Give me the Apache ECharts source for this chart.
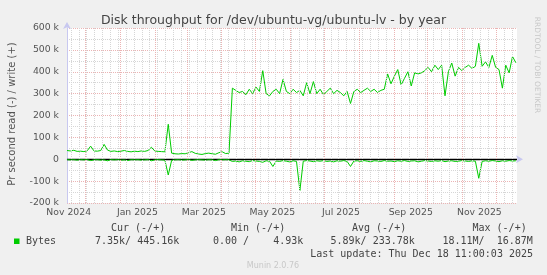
<!DOCTYPE html>
<html><head><meta charset="utf-8">
<script src="https://cdn.jsdelivr.net/npm/echarts@6/dist/echarts.min.js"></script>
<style>html,body{margin:0;padding:0;background:#f0f0f0}#c{width:547px;height:275px}</style>
</head><body><div id="c"></div>
<script>
// ---- data (k bytes per second), one point every 3 days from 2024-11-14 11:00 UTC ----
const startDate = '2024-11-14T11:00:00Z';
const stepDays = 3;
const writeK = [40,38,41,36,37,35,39,60,38,37,40,68,42,36,38,35,37,40,36,34,37,35,38,36,40,55,38,36,35,34,
  160,28,25,24,26,25,30,35,27,24,22,26,28,25,23,30,34,26,28,
  325,315,305,310,295,320,300,330,310,405,300,290,310,320,
  300,365,310,300,320,305,315,290,350,300,355,300,320,295,310,325,300,315,305,290,310,255,
  310,320,305,315,325,310,320,305,315,320,390,345,380,410,340,370,400,335,395,390,395,405,
  420,400,430,410,430,290,400,440,380,420,405,420,430,415,425,530,425,445,420,475,420,410,325,430,395,470,441];
const readK = [-2,-3,-2,-4,-2,-3,-2,-6,-3,-2,-4,-3,-7,-2,-3,-2,-4,-3,-6,-2,-3,-2,-4,-3,-2,-7,-3,-2,-3,-4,
  -72,-5,-3,-2,-4,-3,-2,-5,-3,-2,-3,-4,-2,-3,-6,-2,-3,-2,-3,
  -10,-8,-12,-7,-9,-11,-6,-8,-10,-14,-7,-9,-33,-8,-10,-6,-9,-12,-7,-10,-143,-9,-6,-8,-11,-7,-9,-6,-10,-8,-12,-7,-9,-6,-10,-33,
  -8,-7,-10,-6,-9,-12,-7,-8,-10,-6,-9,-8,-11,-7,-9,-6,-10,-8,-7,-12,-9,-6,-8,-10,-7,-9,-6,-11,-8,-7,-10,-9,-6,-8,-10,-7,-9,
  -87,-10,-7,-9,-6,-8,-11,-7,-9,-6,-8,-7];
const xTickLabels = ['Nov 2024','Jan 2025','Mar 2025','May 2025','Jul 2025','Sep 2025','Nov 2025'];
const xTickDates = ['2024-11-16','2025-01-16','2025-03-16','2025-05-16','2025-07-16','2025-09-16','2025-11-16'];
const monthStarts = ['2024-12-01','2025-01-01','2025-02-01','2025-03-01','2025-04-01','2025-05-01','2025-06-01',
  '2025-07-01','2025-08-01','2025-09-01','2025-10-01','2025-11-01','2025-12-01'];
const firstMonday = '2024-11-18';

const DAY = 86400000;
const t0 = Date.parse(startDate);
const xMin = t0, xMax = t0 + 400 * DAY;
const writeData = writeK.map((v, i) => [t0 + i * stepDays * DAY, v * 1000]);
const readData = readK.map((v, i) => [t0 + i * stepDays * DAY, v * 1000]);
const tickVals = xTickDates.map(d => Date.parse(d + 'T00:00:00Z'));
const weekLines = [];
for (let t = Date.parse(firstMonday + 'T00:00:00Z'); t < xMax; t += 7 * DAY) weekLines.push({xAxis: t});
const monthLines = monthStarts.map(d => ({xAxis: Date.parse(d + 'T00:00:00Z')}));

const chart = echarts.init(document.getElementById('c'), null, {renderer: 'canvas'});
const axisCol = '#c8c8f0';
const txt = '#555';
const redGrid = '#ebb4b4';
const grayGrid = '#d6d6d6';
chart.setOption({
  backgroundColor: '#f0f0f0',
  animation: false,
  grid: {left: 67, right: 30, top: 28, bottom: 72, show: true, backgroundColor: '#ffffff', borderWidth: 0},
  xAxis: {
    type: 'value', min: xMin, max: xMax,
    axisLine: {show: true, lineStyle: {color: axisCol, width: 1}, symbol: ['none', 'arrow'], symbolSize: [6, 7], symbolOffset: [0, 6]},
    axisTick: {show: false},
    splitLine: {show: false},
    axisLabel: {
      customValues: tickVals, color: txt, fontFamily: 'DejaVu Sans', fontSize: 9.3, margin: 5,
      formatter: v => { const k = tickVals.indexOf(v); return k >= 0 ? xTickLabels[k] : ''; }
    }
  },
  yAxis: {
    type: 'value', min: -200000, max: 600000, interval: 100000,
    axisLine: {show: true, lineStyle: {color: axisCol, width: 1}, symbol: ['none', 'arrow'], symbolSize: [6, 7], symbolOffset: [0, 6]},
    axisTick: {show: false},
    splitLine: {show: true, lineStyle: {color: redGrid, type: [1, 1], width: 1}},
    minorTick: {show: false, splitNumber: 2},
    minorSplitLine: {show: true, lineStyle: {color: grayGrid, type: [1, 1], width: 1}},
    axisLabel: {color: txt, fontFamily: 'DejaVu Sans', fontSize: 9.3, margin: 8,
      formatter: v => v === 0 ? '0' : (v / 1000) + ' k'}
  },
  series: [
    {type: 'line', data: [], z: 1, silent: true,
      markLine: {silent: true, symbol: 'none', label: {show: false}, animation: false,
        lineStyle: {color: grayGrid, type: [1, 1], width: 1}, data: weekLines}},
    {type: 'line', data: [], z: 1, silent: true,
      markLine: {silent: true, symbol: 'none', label: {show: false}, animation: false,
        lineStyle: {color: redGrid, type: [1, 1], width: 1}, data: monthLines}},
    {name: 'read', type: 'line', data: readData, symbol: 'none', z: 3,
      lineStyle: {color: '#00cc00', width: 1}},
    {name: 'write', type: 'line', data: writeData, symbol: 'none', z: 3,
      lineStyle: {color: '#00cc00', width: 1},
      markLine: {silent: true, symbol: 'none', label: {show: false}, animation: false, z: 2,
        lineStyle: {color: '#000', type: 'solid', width: 1.3}, data: [{yAxis: 0}]}}
  ],
  graphic: [
    {type: 'text', left: 'center', top: 14, style: {text: 'Disk throughput for /dev/ubuntu-vg/ubuntu-lv - by year',
      fill: '#444', font: '12.5px "DejaVu Sans"'}},
    {type: 'text', x: 12, y: 114, rotation: Math.PI / 2, style: {text: 'Pr second read (-) / write (+)',
      fill: txt, font: '10px "DejaVu Sans"', align: 'center', verticalAlign: 'middle'}},
    {type: 'text', x: 537, y: 65, rotation: -Math.PI / 2, style: {text: 'RRDTOOL / TOBI OETIKER',
      fill: '#c8c8c8', font: '7.5px "DejaVu Sans"', align: 'center', verticalAlign: 'middle'}},
    {type: 'text', x: 111, y: 228.6, style: {text: 'Cur (-/+)', fill: '#444', font: '10px "DejaVu Sans Mono"', verticalAlign: 'middle'}},
    {type: 'text', x: 231, y: 228.6, style: {text: 'Min (-/+)', fill: '#444', font: '10px "DejaVu Sans Mono"', verticalAlign: 'middle'}},
    {type: 'text', x: 352, y: 228.6, style: {text: 'Avg (-/+)', fill: '#444', font: '10px "DejaVu Sans Mono"', verticalAlign: 'middle'}},
    {type: 'text', x: 472.5, y: 228.6, style: {text: 'Max (-/+)', fill: '#444', font: '10px "DejaVu Sans Mono"', verticalAlign: 'middle'}},
    {type: 'rect', shape: {x: 14, y: 238.5, width: 5.5, height: 5.5}, style: {fill: '#00cc00'}},
    {type: 'text', x: 26, y: 241.9, style: {text: 'Bytes', fill: '#444', font: '10px "DejaVu Sans Mono"', verticalAlign: 'middle'}},
    {type: 'text', x: 95, y: 241.9, style: {text: '7.35k/ 445.16k', fill: '#444', font: '10px "DejaVu Sans Mono"', verticalAlign: 'middle'}},
    {type: 'text', x: 213, y: 241.9, style: {text: '0.00 /    4.93k', fill: '#444', font: '10px "DejaVu Sans Mono"', verticalAlign: 'middle'}},
    {type: 'text', x: 330.5, y: 241.9, style: {text: '5.89k/ 233.78k', fill: '#444', font: '10px "DejaVu Sans Mono"', verticalAlign: 'middle'}},
    {type: 'text', x: 442.5, y: 241.9, style: {text: '18.11M/  16.87M', fill: '#444', font: '10px "DejaVu Sans Mono"', verticalAlign: 'middle'}},
    {type: 'text', x: 533, y: 254.1, style: {text: 'Last update: Thu Dec 18 11:00:03 2025', fill: '#444', font: '10px "DejaVu Sans Mono"', align: 'right', verticalAlign: 'middle'}},
    {type: 'text', x: 273, y: 266.3, style: {text: 'Munin 2.0.76', fill: '#c8c8c8', font: '8px "DejaVu Sans"', align: 'center', verticalAlign: 'middle'}}
  ]
});
</script></body></html>
